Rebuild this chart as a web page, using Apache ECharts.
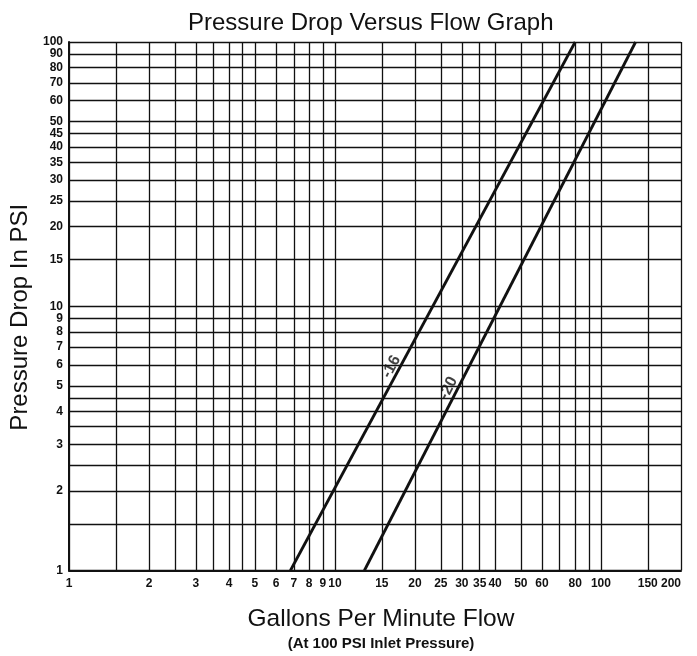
<!DOCTYPE html>
<html lang="en">
<head>
    <meta charset="UTF-8">
    <title>Pressure Drop Versus Flow Graph</title>
    <script src="https://cdn.jsdelivr.net/npm/echarts@6/dist/echarts.min.js"></script>
    <style>
        html, body { margin: 0; padding: 0; background: #fff; }
        #chart { width: 697px; height: 656px; }
    </style>
</head>
<body>
<div id="chart"></div>
<script type="text/javascript">
    // grid lines and tick labels (gpm on x, psi on y)
    const x_grid = [1, 1.5, 2, 2.5, 3, 3.5, 4, 4.5, 5, 6, 7, 8, 9, 10, 15, 20, 25, 30, 35, 40, 50, 60, 70, 80, 90, 100, 150, 200];
    const x_labels = [1, 2, 3, 4, 5, 6, 7, 8, 9, 10, 15, 20, 25, 30, 35, 40, 50, 60, 80, 100, 150, 200];
    const y_grid = [1, 1.5, 2, 2.5, 3, 3.5, 4, 4.5, 5, 6, 7, 8, 9, 10, 15, 20, 25, 30, 35, 40, 45, 50, 60, 70, 80, 90, 100];
    const y_labels = [1, 2, 3, 4, 5, 6, 7, 8, 9, 10, 15, 20, 25, 30, 35, 40, 45, 50, 60, 70, 80, 90, 100];

    // size -16 and -20 curves (flow, pressure drop)
    const line_16 = [[6.8, 1], [80, 100]];
    const line_20 = [[12.9, 1], [135, 100]];
    const label_16 = [16.3, 5.9];
    const label_20 = [26.7, 4.9];

    const sans = '"Liberation Sans", Arial, sans-serif';
    const tick_font = {
        fontFamily: '"Liberation Sans Narrow", "Liberation Sans", sans-serif',
        fontWeight: 'bold',
        fontSize: 12,
        color: '#111'
    };

    const chart = echarts.init(document.getElementById('chart'));
    chart.setOption({
        backgroundColor: '#fff',
        animation: false,
        title: {
            text: 'Pressure Drop Versus Flow Graph',
            left: 183,
            top: 6,
            textStyle: {
                fontFamily: sans,
                fontSize: 24,
                fontWeight: 'normal',
                color: '#111'
            }
        },
        grid: {left: 69, right: 16, top: 42, bottom: 85},
        xAxis: {
            type: 'log',
            logBase: 10,
            min: 1,
            max: 200,
            name: '{a|Gallons Per Minute Flow}\n{b|(At 100 PSI Inlet Pressure)}',
            nameLocation: 'middle',
            nameGap: 34,
            nameTextStyle: {
                align: 'center',
                rich: {
                    a: {fontFamily: sans, fontSize: 24.5, color: '#111', lineHeight: 30, padding: [0, 0, 0, 12]},
                    b: {fontFamily: sans, fontSize: 15, fontWeight: 'bold', color: '#111', lineHeight: 18, padding: [0, 0, 0, 12]}
                }
            },
            axisLine: {show: true, lineStyle: {color: '#111', width: 2}},
            axisTick: {show: false, customValues: x_grid},
            axisLabel: Object.assign({customValues: x_labels, margin: 7, alignMaxLabel: 'right'}, tick_font),
            splitLine: {show: true, lineStyle: {color: '#111', width: 1.3}},
            minorSplitLine: {show: false}
        },
        yAxis: {
            type: 'log',
            logBase: 10,
            min: 1,
            max: 100,
            name: 'Pressure Drop In PSI',
            nameLocation: 'middle',
            nameGap: 32,
            nameTextStyle: {
                fontFamily: sans,
                fontSize: 24,
                color: '#111',
                padding: [0, 22, 0, 0]
            },
            axisLine: {show: true, lineStyle: {color: '#111', width: 2}},
            axisTick: {show: false, customValues: y_grid},
            axisLabel: Object.assign({customValues: y_labels, margin: 6}, tick_font),
            splitLine: {show: true, lineStyle: {color: '#111', width: 1.3}},
            minorSplitLine: {show: false}
        },
        series: [
            {
                name: '-16',
                type: 'line',
                data: line_16,
                showSymbol: false,
                lineStyle: {color: '#111', width: 2.8}
            },
            {
                name: '-20',
                type: 'line',
                data: line_20,
                showSymbol: false,
                lineStyle: {color: '#111', width: 2.8}
            },
            {
                type: 'scatter',
                symbolSize: 0,
                data: [
                    {value: label_16, label: {formatter: '-16', rotate: 62}},
                    {value: label_20, label: {formatter: '-20', rotate: 63}}
                ],
                label: {
                    show: true,
                    position: 'inside',
                    fontFamily: sans,
                    fontWeight: 'bold',
                    fontSize: 16,
                    color: '#111'
                },
                z: 5
            }
        ]
    });
</script>
</body>
</html>
